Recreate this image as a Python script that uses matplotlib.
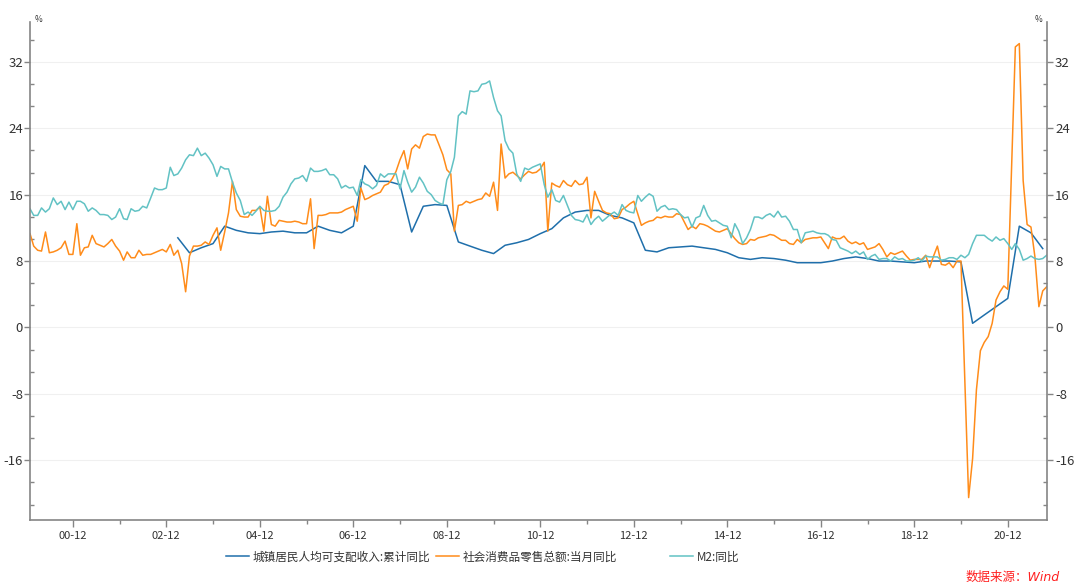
import numpy as np
import pandas as pd
import matplotlib
matplotlib.use("Agg")
import matplotlib.pyplot as plt
import matplotlib.dates as mdates
from matplotlib.ticker import MultipleLocator, AutoMinorLocator

plt.rcParams['font.family'] = ['Noto Sans CJK SC', 'DejaVu Sans']
plt.rcParams['axes.unicode_minus'] = False

# === DATA ===
months = pd.date_range("2000-01-31", "2021-10-31", freq="ME")

# 社会消费品零售总额:当月同比 (%), nan = month not published
retail = [
    11.3, 9.8, 9.3, 9.2, 11.5, 9.0, 9.1, 9.3, 9.6, 10.4, 8.8, 8.8,          # 2000
    12.5, 8.7, 9.6, 9.7, 11.1, 10.1, 9.9, 9.7, 10.1, 10.6, 9.8, 9.2,        # 2001
    8.1, 9.1, 8.4, 8.4, 9.3, 8.7, 8.8, 8.8, 9.0, 9.2, 9.4, 9.1,             # 2002
    10.0, 8.7, 9.3, 7.7, 4.3, 8.6, 9.8, 9.8, 9.9, 10.3, 10.0, 11.1,         # 2003
    12.0, 9.3, 11.5, 13.8, 17.6, 14.2, 13.4, 13.3, 13.3, 14.1, 14.1, 14.5,  # 2004
    11.6, 15.8, 12.4, 12.2, 12.9, 12.8, 12.7, 12.7, 12.8, 12.7, 12.5, 12.5, # 2005
    15.5, 9.5, 13.5, 13.5, 13.6, 13.8, 13.8, 13.8, 13.9, 14.2, 14.4, 14.6,  # 2006
    12.8, 16.8, 15.4, 15.6, 15.9, 16.1, 16.3, 17.1, 17.3, 17.9, 18.8, 20.2, # 2007
    21.3, 19.1, 21.5, 22.0, 21.6, 23.0, 23.3, 23.2, 23.2, 22.0, 20.8, 19.0, # 2008
    18.5, 11.6, 14.7, 14.8, 15.2, 15.0, 15.2, 15.4, 15.5, 16.2, 15.8, 17.5, # 2009
    14.1, 22.1, 18.0, 18.5, 18.7, 18.3, 17.9, 18.4, 18.8, 18.6, 18.7, 19.1, # 2010
    19.9, 11.6, 17.4, 17.1, 16.9, 17.7, 17.2, 17.0, 17.7, 17.2, 17.3, 18.1, # 2011
    13.2, 16.4, 15.2, 14.1, 13.8, 13.7, 13.1, 13.2, 14.2, 14.5, 14.9, 15.2, # 2012
    np.nan, 12.3, 12.6, 12.8, 12.9, 13.3, 13.2, 13.4, 13.3, 13.3, 13.7, 13.6,  # 2013
    np.nan, 11.8, 12.2, 11.9, 12.5, 12.4, 12.2, 11.9, 11.6, 11.5, 11.7, 11.9,  # 2014
    np.nan, 10.7, 10.2, 10.0, 10.1, 10.6, 10.5, 10.8, 10.9, 11.0, 11.2, 11.1,  # 2015
    np.nan, 10.5, 10.5, 10.1, 10.0, 10.6, 10.2, 10.6, 10.7, 10.8, 10.8, 10.9,  # 2016
    np.nan, 9.5, 10.9, 10.7, 10.7, 11.0, 10.4, 10.1, 10.3, 10.0, 10.2, 9.4,    # 2017
    np.nan, 9.7, 10.1, 9.4, 8.5, 9.0, 8.8, 9.0, 9.2, 8.6, 8.1, 8.2,            # 2018
    np.nan, 8.2, 8.7, 7.2, 8.6, 9.8, 7.6, 7.5, 7.8, 7.2, 8.0, 8.0,             # 2019
    np.nan, -20.5, -15.8, -7.5, -2.8, -1.8, -1.1, 0.5, 3.3, 4.3, 5.0, 4.6,     # 2020
    np.nan, 33.8, 34.2, 17.7, 12.4, 12.1, 8.5, 2.5, 4.4, 4.9,                 # 2021
]

# M2:同比 (%)
m2 = [
    14.3, 13.5, 13.5, 14.4, 13.9, 14.3, 15.6, 14.8, 15.2, 14.2, 15.1, 14.2, # 2000
    15.2, 15.2, 14.9, 14.0, 14.4, 14.1, 13.6, 13.6, 13.5, 13.0, 13.3, 14.3, # 2001
    13.1, 13.0, 14.3, 14.0, 14.1, 14.6, 14.4, 15.6, 16.8, 16.6, 16.6, 16.8, # 2002
    19.3, 18.3, 18.5, 19.2, 20.2, 20.8, 20.7, 21.6, 20.7, 21.0, 20.4, 19.6, # 2003
    18.2, 19.4, 19.1, 19.1, 17.5, 16.2, 15.3, 13.6, 13.9, 13.5, 14.0, 14.6, # 2004
    14.1, 14.0, 14.0, 14.1, 14.6, 15.7, 16.3, 17.3, 17.9, 18.0, 18.3, 17.6, # 2005
    19.2, 18.8, 18.8, 18.9, 19.1, 18.4, 18.4, 17.9, 16.8, 17.1, 16.8, 16.9, # 2006
    15.9, 17.8, 17.3, 17.1, 16.7, 17.1, 18.5, 18.1, 18.5, 18.5, 18.5, 16.7, # 2007
    18.9, 17.5, 16.3, 16.9, 18.1, 17.4, 16.4, 16.0, 15.3, 15.0, 14.8, 17.8, # 2008
    18.8, 20.5, 25.5, 26.0, 25.7, 28.5, 28.4, 28.5, 29.3, 29.4, 29.7, 27.7, # 2009
    26.1, 25.5, 22.5, 21.5, 21.0, 18.5, 17.6, 19.2, 19.0, 19.3, 19.5, 19.7, # 2010
    17.2, 15.7, 16.6, 15.3, 15.1, 15.9, 14.7, 13.5, 13.0, 12.9, 12.7, 13.6, # 2011
    12.4, 13.0, 13.4, 12.8, 13.2, 13.6, 13.9, 13.5, 14.8, 14.1, 13.9, 13.8, # 2012
    15.9, 15.2, 15.7, 16.1, 15.8, 14.0, 14.5, 14.7, 14.2, 14.3, 14.2, 13.6, # 2013
    13.2, 13.3, 12.1, 13.2, 13.4, 14.7, 13.5, 12.8, 12.9, 12.6, 12.3, 12.2, # 2014
    10.8, 12.5, 11.6, 10.1, 10.8, 11.8, 13.3, 13.3, 13.1, 13.5, 13.7, 13.3, # 2015
    14.0, 13.3, 13.4, 12.8, 11.8, 11.8, 10.2, 11.4, 11.5, 11.6, 11.4, 11.3, # 2016
    11.3, 11.1, 10.6, 10.5, 9.6, 9.4, 9.2, 8.9, 9.2, 8.8, 9.1, 8.2,         # 2017
    8.6, 8.8, 8.2, 8.3, 8.3, 8.0, 8.5, 8.2, 8.3, 8.0, 8.0, 8.1,             # 2018
    8.4, 8.0, 8.6, 8.5, 8.5, 8.5, 8.1, 8.2, 8.4, 8.4, 8.2, 8.7,             # 2019
    8.4, 8.8, 10.1, 11.1, 11.1, 11.1, 10.7, 10.4, 10.9, 10.5, 10.7, 10.1,   # 2020
    9.4, 10.1, 9.4, 8.1, 8.3, 8.6, 8.3, 8.2, 8.3, 8.7,                      # 2021
]

# 城镇居民人均可支配收入:累计同比 (%), quarterly
income_dates = pd.date_range("2003-03-31", "2021-09-30", freq="QE")
income = [
    10.8, 9.0, 9.6, 10.1,    # 2003
    12.2, 11.7, 11.4, 11.3,  # 2004
    11.5, 11.6, 11.4, 11.4,  # 2005
    12.2, 11.7, 11.4, 12.2,  # 2006
    19.5, 17.6, 17.6, 17.2,  # 2007
    11.5, 14.6, 14.8, 14.7,  # 2008
    10.3, 9.8, 9.3, 8.9,     # 2009
    9.9, 10.2, 10.6, 11.3,   # 2010
    11.9, 13.2, 13.9, 14.1,  # 2011
    14.1, 13.5, 13.2, 12.6,  # 2012
    9.3, 9.1, 9.6, 9.7,      # 2013
    9.8, 9.6, 9.4, 9.0,      # 2014
    8.4, 8.2, 8.4, 8.3,      # 2015
    8.1, 7.8, 7.8, 7.8,      # 2016
    8.0, 8.3, 8.5, 8.3,      # 2017
    8.0, 8.0, 7.9, 7.8,      # 2018
    8.0, 8.0, 8.0, 7.9,      # 2019
    0.5, 1.5, 2.5, 3.5,      # 2020
    12.2, 11.4, 9.5,         # 2021
]

labels = ["城镇居民人均可支配收入:累计同比", "社会消费品零售总额:当月同比", "M2:同比"]
colors = ["#1f6fab", "#ff8c1a", "#62c2c4"]

# === PLOT ===
fig = plt.figure(figsize=(10.8, 5.86), dpi=100)
ax = fig.add_axes([30 / 1080, 1 - 520 / 586, 1016.7 / 1080, 498 / 586])

retail = np.array(retail)
m2 = np.array(m2)
ok = ~np.isnan(retail)

l1, = ax.plot(income_dates, income, color=colors[0], lw=1.1)
l2, = ax.plot(months[ok], retail[ok], color=colors[1], lw=1.1)
l3, = ax.plot(months, m2, color=colors[2], lw=1.1)

ax.set_xlim(months[0], months[-1])
ax.set_ylim(-23.2, 36.8)

major_x = [pd.Timestamp(f"{y}-12-31") for y in range(2000, 2021, 2)]
minor_x = [pd.Timestamp(f"{y}-12-31") for y in range(2001, 2021, 2)]
ax.set_xticks(major_x)
ax.set_xticks(minor_x, minor=True)
ax.xaxis.set_major_formatter(mdates.DateFormatter("%y-%m"))

ax2 = ax.twinx()
ax2.set_ylim(ax.get_ylim())
for a in (ax, ax2):
    a.yaxis.set_major_locator(MultipleLocator(8))
    a.yaxis.set_minor_locator(AutoMinorLocator(3))
    a.spines["top"].set_visible(False)
    for s in a.spines.values():
        s.set_color("#858585")
        s.set_linewidth(1.2)

ax2.spines["left"].set_visible(False)
ax2.spines["bottom"].set_visible(False)
ax.spines["right"].set_visible(False)

ax.yaxis.grid(True, color="#f0f0f0", lw=0.8)
ax.set_axisbelow(True)

tick_kw = dict(colors="#858585", labelcolor="#333333", width=1)
ax.tick_params(axis="y", which="major", direction="out", length=4, pad=1, labelsize=9.5, **tick_kw)
ax.tick_params(axis="y", which="minor", direction="in", length=3, colors="#858585", width=1)
ax2.tick_params(axis="y", which="major", direction="out", length=4, pad=2, labelsize=9.5, **tick_kw)
ax2.tick_params(axis="y", which="minor", direction="in", length=3, colors="#858585", width=1)
ax.tick_params(axis="x", which="major", direction="out", length=5, pad=3, labelsize=8, **tick_kw)
ax.tick_params(axis="x", which="minor", direction="out", length=3, colors="#858585", width=1)

fig.text(35 / 1080, 1 - 19 / 586, "%", fontsize=6, color="#333333", va="center")
fig.text(1042 / 1080, 1 - 19 / 586, "%", fontsize=6, color="#333333", va="center", ha="right")

legend_x = [226, 436, 670]
for line, label, xl in zip([l1, l2, l3], labels, legend_x):
    fig.legend([line], [label], loc="center left", bbox_to_anchor=(xl / 1080, 1 - 557 / 586),
               frameon=False, fontsize=8.4, handlelength=2.0, handletextpad=0.3,
               borderaxespad=0, borderpad=0, labelcolor="#333333")

fig.text(1060 / 1080, 1 - 577 / 586, "数据来源：Wind", color="#ff2020", fontsize=9,
         ha="right", va="center", style="italic", family=["DejaVu Sans", "Noto Sans CJK SC"])

fig.savefig("out.png", dpi=100)
